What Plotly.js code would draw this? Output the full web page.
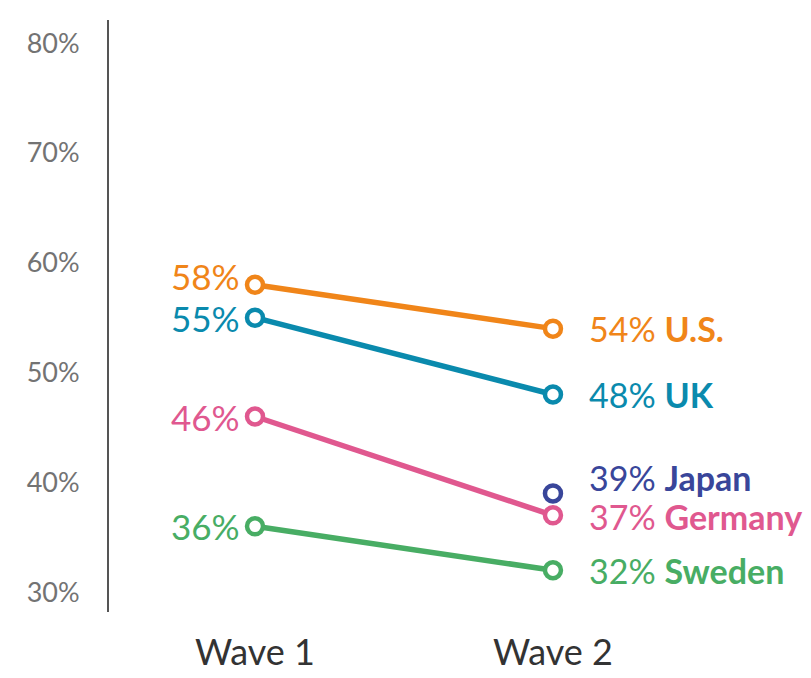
<!DOCTYPE html>
<html>
<head>
<meta charset="utf-8">
<script src="https://cdn.plot.ly/plotly-3.0.1.min.js"></script>
<style>
  html, body { margin: 0; padding: 0; background: #fff; }
  #chart { width: 811px; height: 678px; }
</style>
</head>
<body>
<div id="chart"></div>
<script>
const WAVES = ['Wave 1', 'Wave 2'];
const COUNTRIES = ['U.S.', 'UK', 'Germany', 'Sweden', 'Japan'];
const WAVE1 = [58, 55, 46, 36, null];
const WAVE2 = [54, 48, 37, 32, 39];
const COLORS = ['#f08519', '#0a8aad', '#e0588f', '#48ad64', '#39469a'];
const Y_TICKS = [30, 40, 50, 60, 70, 80];

const FONT = 'Lato, "Noto Sans", sans-serif';

const traces = COUNTRIES.map((name, i) => {
  const xs = [], ys = [];
  [WAVE1[i], WAVE2[i]].forEach((v, j) => {
    if (v !== null) { xs.push(j); ys.push(v); }
  });
  return {
    x: xs, y: ys, name,
    type: 'scatter', mode: 'lines+markers',
    line: { color: COLORS[i], width: 5.5 },
    marker: { size: 16, color: '#fff', line: { color: COLORS[i], width: 4.5 } },
    cliponaxis: false,
    hoverinfo: 'skip',
  };
});

// value labels: wave 1 on the left of the point, wave 2 with the country name on the right
// (US wave 1 and Japan labels are nudged up so they don't collide)
const annotations = [];
COUNTRIES.forEach((name, i) => {
  if (WAVE1[i] !== null) {
    annotations.push({
      x: 0, y: WAVE1[i], text: `${WAVE1[i]}%`,
      xanchor: 'right', xshift: -13, yshift: name === 'U.S.' ? 9 : 0, showarrow: false,
      font: { family: FONT, size: 35, color: COLORS[i] },
    });
  }
  const yshift = name === 'Japan' ? 16 : (name === 'Germany' ? -1 : 0);
  annotations.push({
    x: 1, y: WAVE2[i], text: `${WAVE2[i]}% <b>${name}</b>`,
    xanchor: 'left', xshift: 34, yshift, showarrow: false,
    font: { family: FONT, size: 34, color: COLORS[i] },
  });
});

Plotly.newPlot('chart', traces, {
  width: 811, height: 678,
  margin: { l: 109, r: 0, t: 20, b: 66 },
  paper_bgcolor: '#fff', plot_bgcolor: '#fff',
  showlegend: false,
  font: { family: FONT },
  xaxis: {
    range: [-0.49, 1.866],
    tickvals: [0, 1], ticktext: WAVES,
    showgrid: false, zeroline: false, showline: false, ticks: '',
    tickfont: { family: FONT, size: 36, color: '#333' },
    ticklabelstandoff: 16,
  },
  yaxis: {
    range: [28.2, 82.1],
    tickvals: Y_TICKS, ticktext: Y_TICKS.map(v => v + '%'),
    showgrid: false, zeroline: false,
    showline: true, linecolor: '#555', linewidth: 2, ticks: '',
    tickfont: { family: FONT, size: 27, color: '#737373' },
    ticklabelstandoff: 22,
  },
  annotations,
}, { displayModeBar: false, staticPlot: true });
</script>
</body>
</html>
